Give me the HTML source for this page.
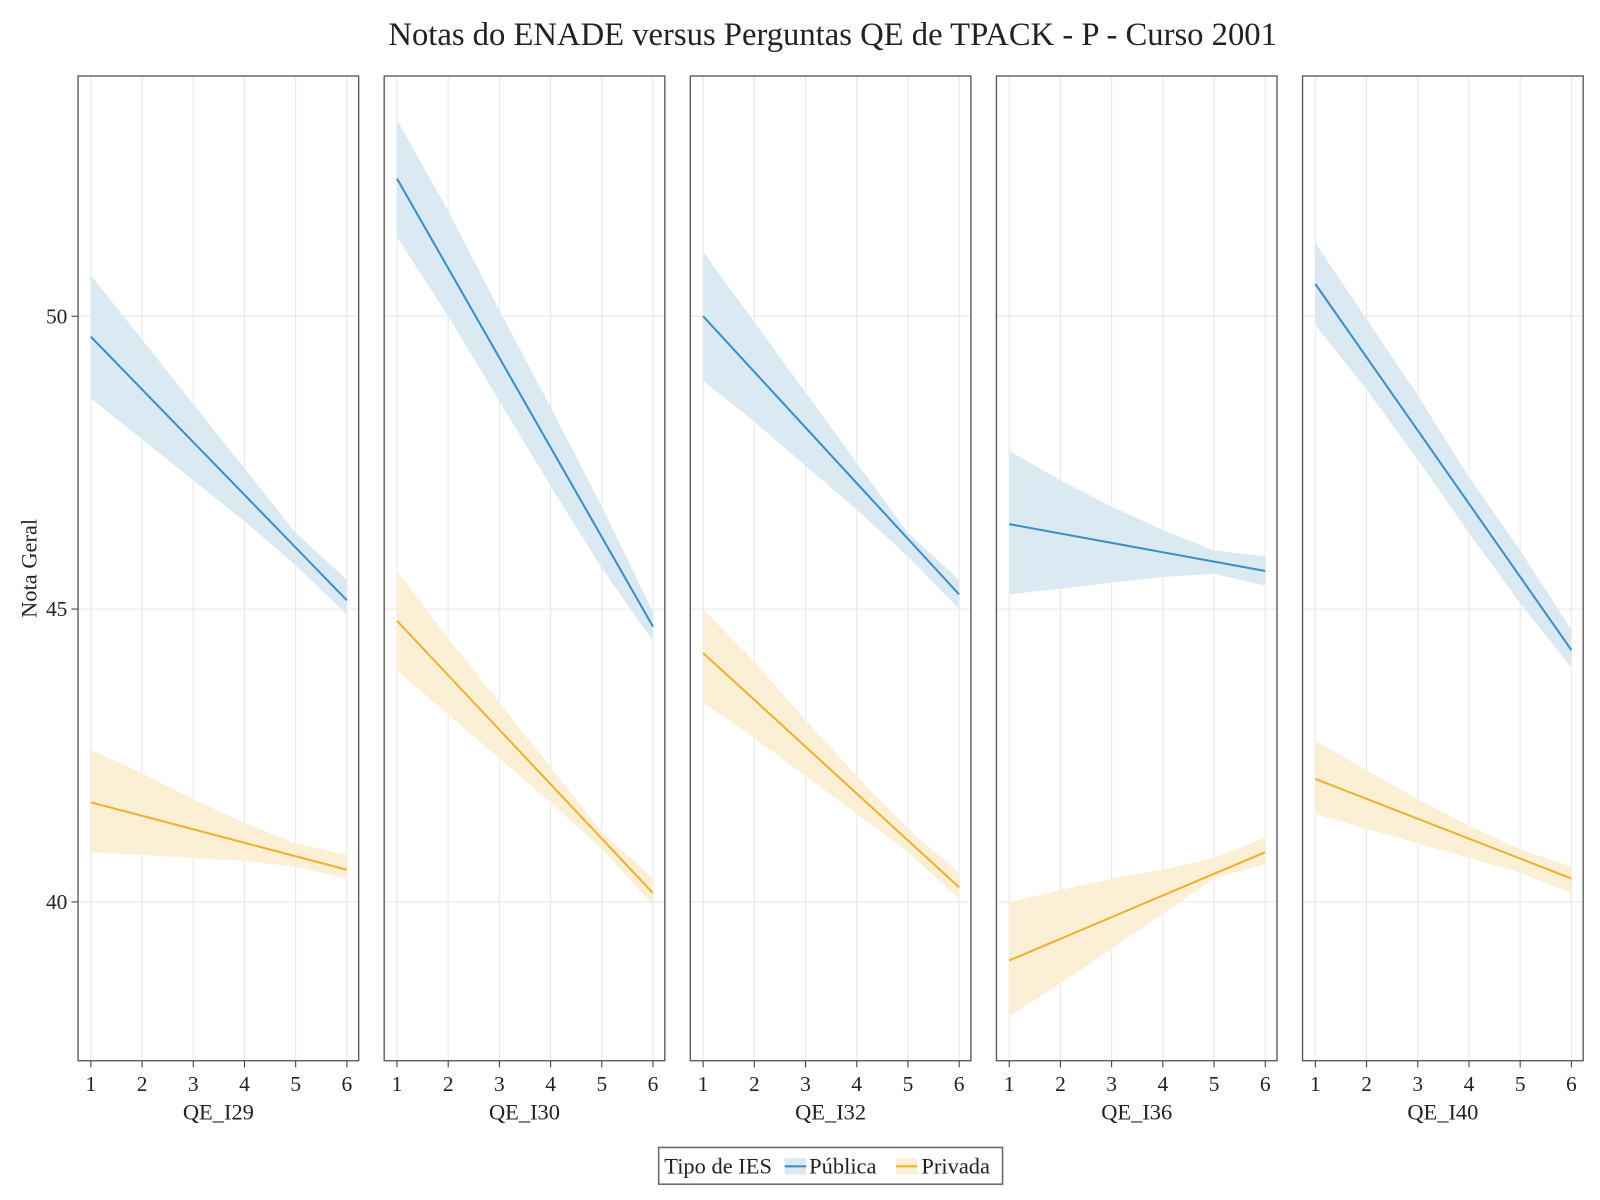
<!DOCTYPE html>
<html><head><meta charset="utf-8"><style>
body{margin:0;background:#fff;}
svg{display:block;font-family:"Liberation Serif",serif;}
</style></head><body>
<svg id="chart" width="1600" height="1200" viewBox="0 0 1568 1176">
<text x="816" y="44" font-size="32" text-anchor="middle" fill="#222">Notas do ENADE versus Perguntas QE de TPACK - P - Curso 2001</text>
<text transform="translate(36,557) rotate(-90)" font-size="22" text-anchor="middle" fill="#222">Nota Geral</text>
<g id="panels"></g>
<g>
<rect x="645.5" y="1124.5" width="337" height="36" fill="#fff" stroke="#666" stroke-width="1.5"/>
<text x="651" y="1150" font-size="22" fill="#222">Tipo de IES</text>
<rect x="769" y="1135" width="21" height="16" fill="#dbe9f3"/>
<line x1="769" y1="1143" x2="790" y2="1143" stroke="#3a8fc7" stroke-width="2"/>
<text x="793" y="1150" font-size="22" fill="#222">Pública</text>
<rect x="878" y="1135" width="21" height="16" fill="#fbefd6"/>
<line x1="878" y1="1143" x2="899" y2="1143" stroke="#f0b030" stroke-width="2"/>
<text x="903" y="1150" font-size="22" fill="#222">Privada</text>
</g>
</svg>
<script>
const panelNames = ["QE_I29","QE_I30","QE_I32","QE_I36","QE_I40"];
const xCategories = [1,2,3,4,5,6];
const yTicks = [40,45,50];
const pubLine = [[49.65,45.15],[52.35,44.7],[50.0,45.25],[46.45,45.65],[50.55,44.3]];
const privLine = [[41.7,40.55],[44.8,40.15],[44.25,40.25],[39.0,40.85],[42.1,40.4]];
const pubLo = [[48.6,47.9,47.2,46.5,45.75,44.9],[51.35,50.0,48.55,47.1,45.7,44.45],[48.9,48.2,47.45,46.7,45.9,45.0],[45.25,45.35,45.45,45.55,45.6,45.4],[49.85,48.75,47.55,46.3,45.1,44.0]];
const pubHi = [[50.7,49.6,48.5,47.4,46.3,45.5],[53.35,51.8,50.1,48.45,46.75,44.95],[51.1,49.9,48.7,47.5,46.3,45.5],[47.7,47.2,46.75,46.35,46.0,45.9],[51.25,49.95,48.65,47.25,46.0,44.65]];
const privLo = [[40.85,40.8,40.75,40.7,40.6,40.4],[43.95,43.2,42.45,41.7,40.9,39.95],[43.4,42.8,42.15,41.5,40.85,40.05],[38.05,38.6,39.2,39.8,40.4,40.65],[41.5,41.25,41.0,40.75,40.5,40.15]];
const privHi = [[42.6,42.2,41.75,41.35,41.0,40.8],[45.65,44.5,43.4,42.3,41.2,40.4],[45.0,44.1,43.1,42.15,41.25,40.5],[40.0,40.2,40.4,40.55,40.75,41.1],[42.75,42.25,41.75,41.3,40.9,40.6]];

const NS="http://www.w3.org/2000/svg";
const g=document.getElementById("panels");
const top_=74,bot=1040,pw=276,gap=24,left0=76;
const yMin=37.28,yMax=54.11,xMin=0.74,xMax=6.24;
function sy(v){return bot-(v-yMin)/(yMax-yMin)*(bot-top_);}
function mk(tag,attrs,parent){const e=document.createElementNS(NS,tag);for(const k in attrs)e.setAttribute(k,attrs[k]);(parent||g).appendChild(e);return e;}
panelNames.forEach((name,p)=>{
  const L=left0+p*(pw+gap),R=L+pw;
  const sx=v=>L+(v-xMin)/(xMax-xMin)*pw;
  const pg=mk("g",{});
  
  
  xCategories.forEach(c=>{mk("line",{x1:sx(c),x2:sx(c),y1:top_,y2:bot,stroke:"#e6e6e6","stroke-width":1},pg);});
  yTicks.forEach(t=>{mk("line",{x1:L,x2:R,y1:sy(t),y2:sy(t),stroke:"#e6e6e6","stroke-width":1},pg);});
  function band(lo,hi,fill,nm){
    let d="M"+xCategories.map((c,i)=>sx(c)+","+sy(hi[i])).join("L");
    d+="L"+xCategories.slice().reverse().map((c,j)=>{const i=xCategories.length-1-j;return sx(c)+","+sy(lo[i]);}).join("L")+"Z";
    const e=mk("path",{d:d,fill:fill},pg);
    
    
  }
  function line(v,col,nm){
    const e=mk("line",{x1:sx(xCategories[0]),y1:sy(v[0]),x2:sx(xCategories[xCategories.length-1]),y2:sy(v[1]),stroke:col,"stroke-width":2},pg);
    
    
  }
  band(pubLo[p],pubHi[p],"#dbe9f3","band-publica");
  band(privLo[p],privHi[p],"#fbefd6","band-privada");
  line(pubLine[p],"#3a8fc7","line-publica");
  line(privLine[p],"#f0b030","line-privada");
  mk("rect",{x:L+0.5,y:top_+0.5,width:pw-1,height:bot-top_-1,fill:"none",stroke:"#555","stroke-width":1.3},pg);
  xCategories.forEach(c=>{
    mk("line",{x1:sx(c),x2:sx(c),y1:bot,y2:bot+6,stroke:"#333","stroke-width":1},pg);
    const t=mk("text",{x:sx(c),y:bot+29,"font-size":21,"text-anchor":"middle",fill:"#222"},pg);t.textContent=c;
  });
  const xt=mk("text",{x:(L+R)/2,y:bot+57,"font-size":22,"text-anchor":"middle",fill:"#222"},pg);
  xt.textContent=name;
  
  
  if(p===0){
    yTicks.forEach(t=>{
      mk("line",{x1:L-6,x2:L,y1:sy(t),y2:sy(t),stroke:"#333","stroke-width":1},pg);
      const tx=mk("text",{x:L-10,y:sy(t)+7,"font-size":21,"text-anchor":"end",fill:"#222"},pg);tx.textContent=t;
    });
  }
});
</script>
</body></html>
